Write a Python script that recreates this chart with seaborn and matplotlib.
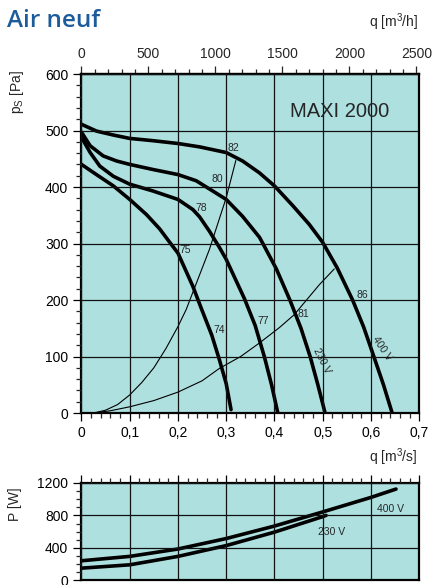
import numpy as np
import pandas as pd
import seaborn as sns
import matplotlib
matplotlib.use('Agg')
from matplotlib import pyplot as plt
from matplotlib.ticker import MultipleLocator, FuncFormatter

# pressure curves, q in m3/s, ps in Pa
q_400 = [0.0, 0.031, 0.066, 0.1, 0.148, 0.2, 0.245, 0.3, 0.334, 0.369, 0.4, 0.438, 0.472, 0.5,
         0.53, 0.562, 0.585, 0.606, 0.626, 0.644]
ps_400 = [511, 499, 492, 486, 482, 477, 471, 461, 446, 425, 402, 367, 334, 302,
          257, 200, 152, 100, 50, 0]

q_230 = [0.0, 0.018, 0.045, 0.073, 0.1, 0.148, 0.2, 0.238, 0.272, 0.3, 0.334, 0.369, 0.376,
         0.404, 0.432, 0.455, 0.474, 0.49, 0.505]
ps_230 = [497, 473, 455, 446, 440, 431, 422, 411, 393, 378, 348, 311, 300,
          255, 200, 150, 100, 50, 0]

q_c3 = [0.0, 0.018, 0.038, 0.066, 0.1, 0.148, 0.2, 0.231, 0.245, 0.265, 0.286, 0.3, 0.338,
        0.36, 0.379, 0.394, 0.407]
ps_c3 = [488, 461, 437, 419, 405, 393, 378, 360, 347, 322, 293, 272, 202,
         155, 100, 50, 0]

q_c4 = [0.0, 0.031, 0.066, 0.1, 0.135, 0.162, 0.183, 0.2, 0.231, 0.248, 0.27, 0.286, 0.3, 0.31]
ps_c4 = [440, 422, 402, 378, 351, 326, 302, 283, 224, 186, 138, 94, 52, 6]

# system curves
q_sysA = [0.025, 0.05, 0.075, 0.1, 0.125, 0.15, 0.175, 0.2, 0.217, 0.241, 0.265, 0.3, 0.32]
ps_sysA = [0, 5, 15, 32, 54, 80, 114, 153, 183, 236, 289, 381, 447]
q_sysB = [0.025, 0.06, 0.1, 0.15, 0.2, 0.25, 0.286, 0.33, 0.369, 0.41, 0.441, 0.493, 0.524]
ps_sysB = [0, 4, 11, 22, 37, 57, 79, 100, 124, 151, 174, 227, 255]

# power curves, W
q_p400 = [0.0, 0.1, 0.2, 0.3, 0.4, 0.5, 0.6, 0.652]
p_400 = [241, 295, 386, 515, 669, 843, 1022, 1125]
q_p230 = [0.0, 0.1, 0.2, 0.3, 0.4, 0.5, 0.507]
p_230 = [150, 191, 295, 428, 594, 785, 800]

curve_labels = ['82', '80', '78', '75', '74', '77', '81', '86']
label_q = [0.315, 0.281, 0.248, 0.216, 0.285, 0.377, 0.461, 0.583]
label_ps = [469, 414, 362, 288, 147, 163, 176, 208]

BG = '#afe0e0'
TITLE_BLUE = '#1d5c9c'

sns.set_style('ticks')
plt.rcParams['font.family'] = ['Liberation Sans', 'DejaVu Sans']
plt.rcParams['mathtext.fontset'] = 'custom'
plt.rcParams['mathtext.rm'] = 'Liberation Sans'
plt.rcParams['mathtext.it'] = 'Liberation Sans'

fig = plt.figure(figsize=(4.38, 5.85), dpi=100)
ax = fig.add_axes([0.186, 0.294, 0.771, 0.5795])
ax2 = fig.add_axes([0.186, 0.008, 0.771, 0.1664])

def comma(v, pos):
    if abs(v) < 1e-9:
        return '0'
    return f'{v:.1f}'.replace('.', ',')

def style_axes(a):
    a.set_facecolor(BG)
    for s in a.spines.values():
        s.set_linewidth(1.6)
        s.set_color('black')
    a.grid(True, which='major', color='#111111', linewidth=0.9)
    a.set_axisbelow(False)
    a.tick_params(which='major', direction='out', length=6, width=0.9, labelsize=10, colors='black')
    a.tick_params(which='minor', direction='out', length=3.5, width=0.9)

# main pressure chart
style_axes(ax)
for qs, ps in [(q_400, ps_400), (q_230, ps_230), (q_c3, ps_c3), (q_c4, ps_c4)]:
    df = pd.DataFrame({'q': qs, 'ps': ps})
    sns.lineplot(data=df, x='q', y='ps', ax=ax, color='black', linewidth=2.6,
                 sort=False, estimator=None)
for qs, ps in [(q_sysA, ps_sysA), (q_sysB, ps_sysB)]:
    df = pd.DataFrame({'q': qs, 'ps': ps})
    sns.lineplot(data=df, x='q', y='ps', ax=ax, color='black', linewidth=0.8,
                 sort=False, estimator=None)

ax.set_xlim(0, 0.7)
ax.set_ylim(0, 600)
ax.xaxis.set_major_locator(MultipleLocator(0.1))
ax.xaxis.set_minor_locator(MultipleLocator(0.02))
ax.yaxis.set_major_locator(MultipleLocator(100))
ax.yaxis.set_minor_locator(MultipleLocator(20))
ax.xaxis.set_major_formatter(FuncFormatter(comma))
ax.set_xlabel('')
ax.set_ylabel('')

top = ax.secondary_xaxis('top', functions=(lambda q: q * 3600, lambda h: h / 3600))
top.xaxis.set_major_locator(MultipleLocator(500))
top.xaxis.set_minor_locator(MultipleLocator(100))
top.tick_params(which='major', direction='out', length=6, width=0.9, labelsize=10)
top.tick_params(which='minor', direction='out', length=3.5, width=0.9)
top.spines['top'].set_linewidth(1.6)

for t, xq, yp in zip(curve_labels, label_q, label_ps):
    ax.text(xq, yp, t, fontsize=7.5, ha='center', va='center')
ax.text(0.499, 93, '230 V', fontsize=7.5, ha='center', va='center', rotation=-63)
ax.text(0.623, 114, '400 V', fontsize=7.5, ha='center', va='center', rotation=-56)
ax.text(0.432, 534, 'MAXI 2000', fontsize=14.5, ha='left', va='center')

# power chart
style_axes(ax2)
for qs, pw in [(q_p400, p_400), (q_p230, p_230)]:
    df = pd.DataFrame({'q': qs, 'p': pw})
    sns.lineplot(data=df, x='q', y='p', ax=ax2, color='black', linewidth=2.6,
                 sort=False, estimator=None)
ax2.set_xlim(0, 0.7)
ax2.set_ylim(0, 1200)
ax2.xaxis.tick_top()
ax2.xaxis.set_major_locator(MultipleLocator(0.1))
ax2.xaxis.set_minor_locator(MultipleLocator(0.02))
ax2.yaxis.set_major_locator(MultipleLocator(400))
ax2.yaxis.set_minor_locator(MultipleLocator(100))
ax2.tick_params(axis='x', which='both', labeltop=False, labelbottom=False)
ax2.set_xlabel('')
ax2.set_ylabel('')
ax2.text(0.64, 885, '400 V', fontsize=7.5, ha='center', va='center')
ax2.text(0.519, 594, '230 V', fontsize=7.5, ha='center', va='center')

# figure texts
fig.text(0.016, 0.953, 'Air neuf', fontsize=17.5, color=TITLE_BLUE, fontweight='semibold',
         family=['Open Sans', 'DejaVu Sans'], ha='left', va='baseline')
fig.text(0.954, 0.962, r'q [m$^3$/h]', fontsize=10, ha='right', va='center')
fig.text(0.954, 0.219, r'q [m$^3$/s]', fontsize=10, ha='right', va='center')
fig.text(0.039, 0.843, r'p$_S$ [Pa]', fontsize=10, rotation=90, ha='center', va='center')
fig.text(0.034, 0.138, 'P [W]', fontsize=10, rotation=90, ha='center', va='center')

fig.savefig('out.png', dpi=100)
